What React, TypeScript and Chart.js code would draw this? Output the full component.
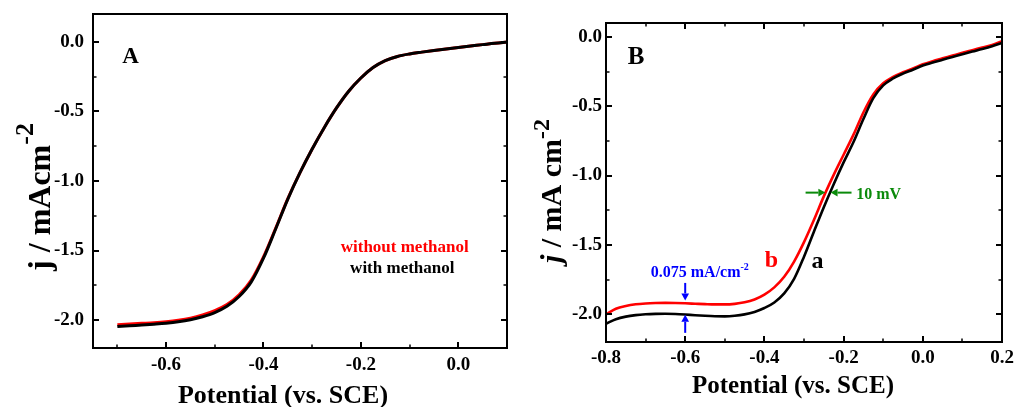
import React, { useEffect, useRef } from 'react';
import { Chart, registerables } from 'chart.js';

Chart.register(...registerables);

const FONT = '"Liberation Serif", "Times New Roman", serif';

// ---------------- Panel A data ----------------
const potentialA = [-0.7, -0.675, -0.65, -0.625, -0.6, -0.575, -0.55, -0.525, -0.5, -0.475, -0.45, -0.425, -0.4, -0.375, -0.35, -0.325, -0.3, -0.275, -0.25, -0.225, -0.2, -0.175, -0.15, -0.125, -0.1, -0.075, -0.05, -0.025, 0, 0.025, 0.05, 0.075, 0.1];
const withMethanolA = [-2.046, -2.040, -2.035, -2.029, -2.022, -2.012, -1.997, -1.975, -1.945, -1.900, -1.830, -1.725, -1.555, -1.345, -1.130, -0.940, -0.770, -0.615, -0.475, -0.355, -0.260, -0.185, -0.135, -0.105, -0.087, -0.074, -0.062, -0.051, -0.040, -0.030, -0.020, -0.010, -0.002];
const withoutMethanolA = [-2.033, -2.028, -2.023, -2.018, -2.011, -2.001, -1.986, -1.963, -1.932, -1.888, -1.818, -1.712, -1.545, -1.340, -1.127, -0.940, -0.770, -0.615, -0.475, -0.355, -0.260, -0.185, -0.135, -0.105, -0.087, -0.074, -0.062, -0.051, -0.040, -0.030, -0.020, -0.010, -0.002];
const xMajorA = [-0.6, -0.4, -0.2, 0.0];
const xMinorA = [-0.7, -0.5, -0.3, -0.1];
const yMajorA = [-2.0, -1.5, -1.0, -0.5, 0.0];
const yMinorA = [-1.75, -1.25, -0.75, -0.25];

// ---------------- Panel B data ----------------
const potentialB = [-0.8, -0.775, -0.75, -0.725, -0.7, -0.675, -0.65, -0.625, -0.6, -0.575, -0.55, -0.525, -0.5, -0.475, -0.45, -0.425, -0.4, -0.375, -0.35, -0.325, -0.3, -0.275, -0.25, -0.225, -0.2, -0.175, -0.15, -0.125, -0.1, -0.075, -0.05, -0.025, 0, 0.025, 0.05, 0.075, 0.1, 0.125, 0.15, 0.175, 0.2];
const curveA_B = [-2.068, -2.036, -2.017, -2.006, -2.000, -1.997, -1.996, -1.998, -2.002, -2.007, -2.011, -2.014, -2.015, -2.011, -2.001, -1.983, -1.955, -1.915, -1.850, -1.745, -1.585, -1.405, -1.228, -1.062, -0.905, -0.758, -0.592, -0.442, -0.350, -0.300, -0.265, -0.237, -0.207, -0.185, -0.165, -0.145, -0.125, -0.106, -0.088, -0.068, -0.044];
const curveB_B = [-2.000, -1.960, -1.940, -1.928, -1.922, -1.919, -1.918, -1.919, -1.921, -1.924, -1.927, -1.929, -1.929, -1.925, -1.914, -1.893, -1.858, -1.806, -1.730, -1.620, -1.480, -1.320, -1.150, -0.995, -0.850, -0.705, -0.545, -0.415, -0.335, -0.288, -0.255, -0.228, -0.198, -0.175, -0.155, -0.135, -0.115, -0.096, -0.077, -0.058, -0.032];
const xMajorB = [-0.8, -0.6, -0.4, -0.2, 0.0, 0.2];
const xMinorB = [-0.7, -0.5, -0.3, -0.1, 0.1];
const yMajorB = [-2.0, -1.5, -1.0, -0.5, 0.0];
const yMinorB = [-1.75, -1.25, -0.75, -0.25];

// annotation anchors (data units)
const panelLabelA = { x: -0.673, y: -0.106 };
const legendA = { x: -0.11, yTop: -1.509, yBottom: -1.662 };
const panelLabelB = { x: -0.724, y: -0.149 };
const labelB_b = { x: -0.382, y: -1.657 };
const labelB_a = { x: -0.266, y: -1.669 };
const gapText = { x: -0.687, y: -1.729 };
const gapArrowX = -0.6;
const gapDown = [-1.774, -1.900];
const gapUp = [-2.134, -2.004];
const shiftY = -1.123;
const shiftLeft = [-0.296, -0.246];
const shiftRight = [-0.18, -0.233];
const shiftText = { x: -0.168, y: -1.166 };

const tickFont = { family: FONT, size: 19, weight: 'bold' as const };
const fmt = (v: any) => Number(v).toFixed(1);
const setTicks = (values: number[]) => (scale: any) => {
  scale.ticks = values.map((v) => ({ value: v }));
};

function labeledAxis(position: string, min: number, max: number, majors: number[], size: number, padding: number) {
  const horizontal = position === 'bottom' || position === 'top';
  return {
    type: 'linear',
    position,
    min,
    max,
    afterBuildTicks: setTicks(majors),
    afterFit: (s: any) => {
      if (horizontal) s.height = size; else s.width = size;
      s.paddingLeft = 0; s.paddingRight = 0; s.paddingTop = 0; s.paddingBottom = 0;
    },
    grid: { display: false, drawOnChartArea: false, drawTicks: false, tickLength: 0 },
    border: { display: false },
    ticks: { display: true, autoSkip: false, maxRotation: 0, minRotation: 0, padding, color: '#000', font: tickFont, callback: fmt },
  };
}

type TickSpec = { side: 'bottom' | 'top' | 'left' | 'right'; values: number[]; len: number; width: number };

function drawTicks(chart: any, specs: TickSpec[]) {
  const { ctx, chartArea: a } = chart;
  const xs = chart.scales.x;
  const ys = chart.scales.y;
  ctx.save();
  ctx.strokeStyle = '#000';
  specs.forEach((s) => {
    ctx.lineWidth = s.width;
    s.values.forEach((v) => {
      ctx.beginPath();
      if (s.side === 'bottom' || s.side === 'top') {
        const p = Math.round(xs.getPixelForValue(v));
        const y0 = s.side === 'bottom' ? a.bottom : a.top;
        const y1 = s.side === 'bottom' ? a.bottom - s.len : a.top + s.len;
        ctx.moveTo(p, y0);
        ctx.lineTo(p, y1);
      } else {
        const p = Math.round(ys.getPixelForValue(v));
        const x0 = s.side === 'left' ? a.left : a.right;
        const x1 = s.side === 'left' ? a.left + s.len : a.right - s.len;
        ctx.moveTo(x0, p);
        ctx.lineTo(x1, p);
      }
      ctx.stroke();
    });
  });
  ctx.restore();
}

type Part = { text: string; font: string; color?: string; dy?: number };
function drawRich(ctx: CanvasRenderingContext2D, parts: Part[], x: number, y: number, align: 'left' | 'center') {
  const widths = parts.map((p) => { ctx.font = p.font; return ctx.measureText(p.text).width; });
  const total = widths.reduce((a, b) => a + b, 0);
  let cx = align === 'center' ? x - total / 2 : x;
  ctx.textAlign = 'left';
  ctx.textBaseline = 'alphabetic';
  parts.forEach((p, i) => {
    ctx.font = p.font;
    ctx.fillStyle = p.color || '#000';
    ctx.fillText(p.text, cx, y + (p.dy || 0));
    cx += widths[i];
  });
}

function arrow(ctx: CanvasRenderingContext2D, x1: number, y1: number, x2: number, y2: number, color: string, head = 7, width = 2) {
  const ang = Math.atan2(y2 - y1, x2 - x1);
  const bx = x2 - Math.cos(ang) * head;
  const by = y2 - Math.sin(ang) * head;
  ctx.save();
  ctx.strokeStyle = color;
  ctx.fillStyle = color;
  ctx.lineWidth = width;
  ctx.beginPath();
  ctx.moveTo(x1, y1);
  ctx.lineTo(bx, by);
  ctx.stroke();
  const hw = head * 0.55;
  ctx.beginPath();
  ctx.moveTo(x2, y2);
  ctx.lineTo(bx + Math.sin(ang) * hw, by - Math.cos(ang) * hw);
  ctx.lineTo(bx - Math.sin(ang) * hw, by + Math.cos(ang) * hw);
  ctx.closePath();
  ctx.fill();
  ctx.restore();
}

function frame(chart: any) {
  const { ctx, chartArea: a } = chart;
  ctx.save();
  ctx.strokeStyle = '#000';
  ctx.lineWidth = 2;
  ctx.strokeRect(a.left, a.top, a.right - a.left, a.bottom - a.top);
  ctx.restore();
}

function verticalTitle(ctx: CanvasRenderingContext2D, parts: Part[], x: number, cy: number) {
  ctx.save();
  ctx.translate(x, cy);
  ctx.rotate(-Math.PI / 2);
  drawRich(ctx, parts, 0, 0, 'center');
  ctx.restore();
}

function configA(): any {
  const pts = (ys: number[]) => potentialA.map((x, i) => ({ x, y: ys[i] }));
  return {
    type: 'line',
    data: {
      datasets: [
        { label: 'with methanol', data: pts(withMethanolA), borderColor: '#000', borderWidth: 3, pointRadius: 0, cubicInterpolationMode: 'monotone', fill: false },
        { label: 'without methanol', data: pts(withoutMethanolA), borderColor: '#ff0000', borderWidth: 3, pointRadius: 0, cubicInterpolationMode: 'monotone', fill: false },
      ],
    },
    options: {
      responsive: false,
      animation: false,
      devicePixelRatio: 1,
      layout: { padding: { left: 0, top: 14, right: 13, bottom: 0 } },
      plugins: { legend: { display: false }, tooltip: { enabled: false } },
      scales: {
        x: labeledAxis('bottom', -0.75, 0.1, xMajorA, 59, 6),
        y: labeledAxis('left', -2.2, 0.2, yMajorA, 93, 9),
      },
    },
    plugins: [
      {
        id: 'decorA',
        afterDraw(chart: any) {
          const { ctx } = chart;
          const xs = chart.scales.x;
          const ys = chart.scales.y;
          drawTicks(chart, [
            { side: 'bottom', values: xMajorA, len: 6, width: 2 },
            { side: 'bottom', values: xMinorA, len: 3.5, width: 1.5 },
            { side: 'left', values: yMajorA, len: 6, width: 2 },
            { side: 'left', values: yMinorA, len: 3.5, width: 1.5 },
            { side: 'right', values: yMajorA, len: 6, width: 2 },
            { side: 'right', values: yMinorA, len: 3.5, width: 1.5 },
          ]);
          frame(chart);
          ctx.save();
          ctx.textAlign = 'center';
          ctx.textBaseline = 'middle';
          ctx.fillStyle = '#000';
          ctx.font = `bold 23px ${FONT}`;
          ctx.fillText('A', xs.getPixelForValue(panelLabelA.x), ys.getPixelForValue(panelLabelA.y));
          ctx.textBaseline = 'alphabetic';
          ctx.font = `bold 17px ${FONT}`;
          ctx.fillStyle = '#ff0000';
          ctx.fillText('without methanol', xs.getPixelForValue(legendA.x), ys.getPixelForValue(legendA.yTop));
          ctx.fillStyle = '#000';
          ctx.fillText('with methanol', xs.getPixelForValue(legendA.x - 0.005), ys.getPixelForValue(legendA.yBottom));
          drawRich(ctx, [{ text: 'Potential (vs. SCE)', font: `bold 26px ${FONT}` }], 283, 403, 'center');
          verticalTitle(ctx, [
            { text: 'j / mAcm', font: `bold 32px ${FONT}` },
            { text: '-2', font: `bold 26px ${FONT}`, dy: -17 },
          ], 50, 197);
          ctx.restore();
        },
      },
    ],
  };
}

function configB(): any {
  const pts = (ys: number[]) => potentialB.map((x, i) => ({ x, y: ys[i] }));
  return {
    type: 'line',
    data: {
      datasets: [
        { label: 'a', data: pts(curveA_B), borderColor: '#000', borderWidth: 2.6, pointRadius: 0, cubicInterpolationMode: 'monotone', fill: false },
        { label: 'b', data: pts(curveB_B), borderColor: '#ff0000', borderWidth: 2.6, pointRadius: 0, cubicInterpolationMode: 'monotone', fill: false },
      ],
    },
    options: {
      responsive: false,
      animation: false,
      devicePixelRatio: 1,
      layout: { padding: { left: 0, top: 23, right: 12, bottom: 0 } },
      plugins: { legend: { display: false }, tooltip: { enabled: false } },
      scales: {
        x: labeledAxis('bottom', -0.8, 0.2, xMajorB, 65, 5),
        y: labeledAxis('left', -2.2, 0.1, yMajorB, 86, 4),
      },
    },
    plugins: [
      {
        id: 'decorB',
        afterDraw(chart: any) {
          const { ctx } = chart;
          const xs = chart.scales.x;
          const ys = chart.scales.y;
          const px = (v: number) => xs.getPixelForValue(v);
          const py = (v: number) => ys.getPixelForValue(v);
          drawTicks(chart, [
            { side: 'bottom', values: xMajorB, len: 6, width: 2 },
            { side: 'bottom', values: xMinorB, len: 3.5, width: 1.5 },
            { side: 'top', values: xMajorB, len: 6, width: 2 },
            { side: 'top', values: xMinorB, len: 3.5, width: 1.5 },
            { side: 'left', values: yMajorB, len: 6, width: 2 },
            { side: 'left', values: yMinorB, len: 3.5, width: 1.5 },
            { side: 'right', values: yMajorB, len: 6, width: 2 },
            { side: 'right', values: yMinorB, len: 3.5, width: 1.5 },
          ]);
          frame(chart);
          ctx.save();
          ctx.textAlign = 'center';
          ctx.textBaseline = 'middle';
          ctx.fillStyle = '#000';
          ctx.font = `bold 25px ${FONT}`;
          ctx.fillText('B', px(panelLabelB.x), py(panelLabelB.y));
          ctx.textBaseline = 'alphabetic';
          ctx.font = `bold 24px ${FONT}`;
          ctx.fillStyle = '#ff0000';
          ctx.fillText('b', px(labelB_b.x), py(labelB_b.y));
          ctx.fillStyle = '#000';
          ctx.fillText('a', px(labelB_a.x), py(labelB_a.y));
          drawRich(ctx, [
            { text: '0.075 mA/cm', font: `bold 16px ${FONT}`, color: '#0000ff' },
            { text: '-2', font: `bold 10px ${FONT}`, color: '#0000ff', dy: -7 },
          ], px(gapText.x), py(gapText.y), 'left');
          arrow(ctx, px(gapArrowX), py(gapDown[0]), px(gapArrowX), py(gapDown[1]), '#0000ff', 7, 2);
          arrow(ctx, px(gapArrowX), py(gapUp[0]), px(gapArrowX), py(gapUp[1]), '#0000ff', 7, 2);
          arrow(ctx, px(shiftLeft[0]), py(shiftY), px(shiftLeft[1]), py(shiftY), '#0a8a0a', 7, 2);
          arrow(ctx, px(shiftRight[0]), py(shiftY), px(shiftRight[1]), py(shiftY), '#0a8a0a', 7, 2);
          drawRich(ctx, [{ text: '10 mV', font: `bold 16px ${FONT}`, color: '#0a8a0a' }], px(shiftText.x), py(shiftText.y), 'left');
          drawRich(ctx, [{ text: 'Potential (vs. SCE)', font: `bold 25px ${FONT}` }], 273, 393, 'center');
          verticalTitle(ctx, [
            { text: 'j', font: `italic bold 30px ${FONT}` },
            { text: ' / mA cm', font: `bold 30px ${FONT}` },
            { text: '-2', font: `bold 24px ${FONT}`, dy: -12 },
          ], 41, 191);
          ctx.restore();
        },
      },
    ],
  };
}

function ChartPanel({ left, width, height, makeConfig }: { left: number; width: number; height: number; makeConfig: () => any }) {
  const ref = useRef<HTMLCanvasElement>(null);
  useEffect(() => {
    const chart = new Chart(ref.current as HTMLCanvasElement, makeConfig());
    return () => chart.destroy();
  }, []);
  return (
    <canvas
      ref={ref}
      width={width}
      height={height}
      style={{ position: 'absolute', left, top: 0, width, height, display: 'block' }}
    />
  );
}

export default function App() {
  return (
    <div style={{ position: 'absolute', left: 0, top: 0, width: 1014, height: 407, background: '#fff', overflow: 'hidden' }}>
      <ChartPanel left={0} width={520} height={407} makeConfig={configA} />
      <ChartPanel left={520} width={494} height={407} makeConfig={configB} />
    </div>
  );
}
